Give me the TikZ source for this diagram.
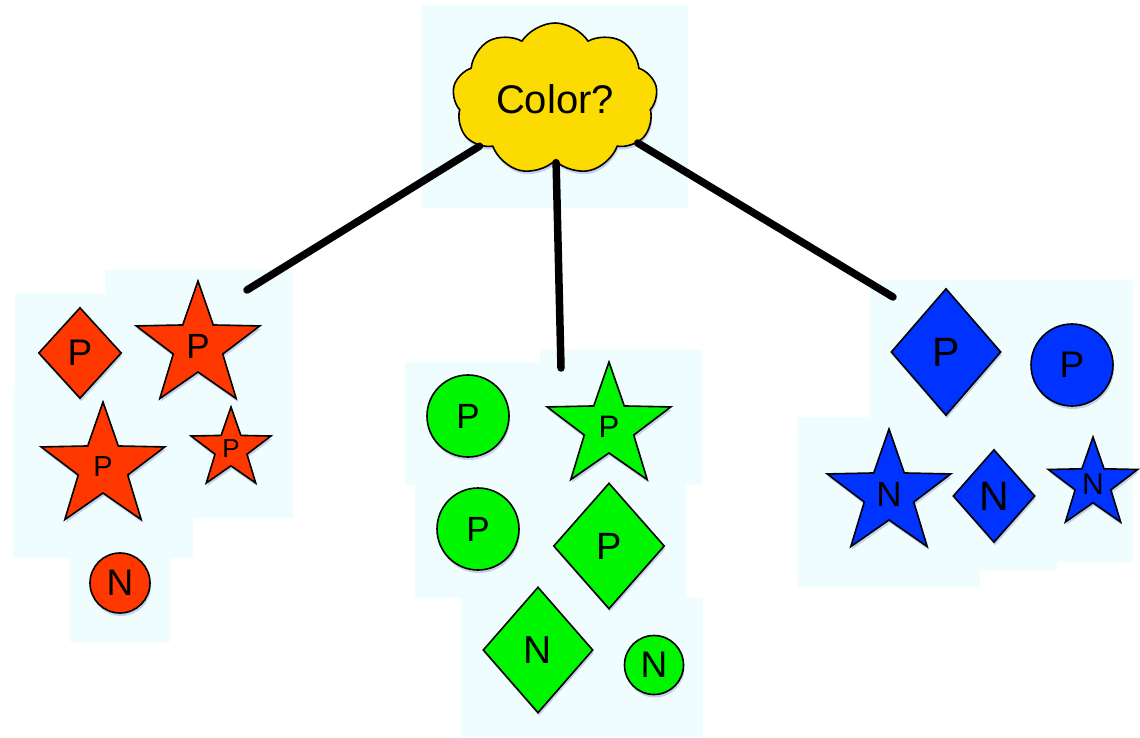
\documentclass[tikz,border=0pt]{standalone}
\usepackage{fontspec}
\setmainfont{Liberation Sans}
\usetikzlibrary{
  shapes.geometric, % 菱形、五角星
  shapes.symbols,   % 云朵
  shadows           % 形状下方的阴影
}
\definecolor{cloudyellow}{RGB}{252,220,0}
\definecolor{redclass}{RGB}{255,56,0}
\definecolor{greenclass}{RGB}{0,245,0}
\definecolor{blueclass}{RGB}{0,51,255}
\definecolor{haze}{RGB}{240,253,255}
\newcommand{\labfont}[1]{\fontsize{#1}{#1}\selectfont}
\tikzset{
  item/.style={
    draw=black,
    line width=1.6pt,
    inner sep=0pt,
    text=black,
    drop shadow={shadow xshift=1pt, shadow yshift=-3pt,
      fill=blue!60!black, opacity=.18}
  },
  roundit/.style={item, circle, minimum size=#1},
  gem/.style 2 args={item, diamond, minimum width=#1, minimum height=#2},
  starit/.style={item, star, star points=5, star point ratio=2.5, minimum size=#1},
  branch/.style={line width=7.5pt, line cap=round, black},
  halo/.style={fill=haze, draw=none}
}

\begin{document}
\begin{tikzpicture}[x=1pt, y=-1pt]
  \useasboundingbox (0,0) rectangle (1140,738);

  % --- 浅色底块 ---
  \fill[halo] (422,5) rectangle (688,208);
  \fill[halo] (105,270) rectangle (293,518);
  \fill[halo] (15,293) rectangle (293,518);
  \fill[halo] (13,390) rectangle (193,558);
  \fill[halo] (70,558) rectangle (170,642);
  \fill[halo] (540,350) rectangle (702,485);
  \fill[halo] (405,362) rectangle (702,485);
  \fill[halo] (415,485) rectangle (686,598);
  \fill[halo] (461,598) rectangle (703,737);
  \fill[halo] (870,280) rectangle (1133,417);
  \fill[halo] (798,417) rectangle (1133,562);
  \fill[halo] (798,562) rectangle (1057,570);
  \fill[halo] (798,570) rectangle (980,587);

  % --- 根：按颜色划分 ---
  \node[cloud, cloud puffs=9, cloud puff arc=115, cloud ignores aspect,
    minimum width=205, minimum height=152, inner sep=0pt,
    draw=black, line width=1.6pt, fill=cloudyellow,
    drop shadow={shadow xshift=1pt, shadow yshift=-3pt, fill=blue!60!black, opacity=.18},
    font=\labfont{40}] (color) at (555,99) {Color?};

  % 三条分支的末端
  \coordinate (redend) at (247,290);
  \coordinate (greenend) at (561,368);
  \coordinate (blueend) at (893,297);
  \draw[branch] (color.212) -- (redend);
  \draw[branch] (color.271) -- (greenend);
  \draw[branch] (color.332) -- (blueend);

  % --- 红色一组 ---
  \begin{scope}[every node/.append style={fill=redclass}]
    \node[gem={83}{91}, font=\labfont{37}] (rdia) at (80,353) {P};
    \node[starit=130, font=\labfont{35}] (rstarA) at (198,346) {P};
    \node[starit=130, font=\labfont{29}] (rstarB) at (103,467) {P};
    \node[starit=84, font=\labfont{26}] (rstarC) at (231,449) {P};
    \node[roundit=60, font=\labfont{37}] (rcirc) at (120,583) {N};
  \end{scope}

  % --- 绿色一组 ---
  \begin{scope}[every node/.append style={fill=greenclass}]
    \node[roundit=82, font=\labfont{35}] (gcircA) at (468,416) {P};
    \node[starit=130, font=\labfont{31}] (gstar) at (609,427) {P};
    \node[roundit=82, font=\labfont{35}] (gcircB) at (478,529) {P};
    \node[gem={111}{126}, font=\labfont{38}] (gdiaA) at (609,546) {P};
    \node[gem={110}{126}, font=\labfont{39}] (gdiaB) at (538,650) {N};
    \node[roundit=59, font=\labfont{37}] (gcircC) at (654,665) {N};
  \end{scope}

  % --- 蓝色一组 ---
  \begin{scope}[every node/.append style={fill=blueclass}]
    \node[gem={110}{127}, font=\labfont{41}] (bdiaA) at (946,352) {P};
    \node[roundit=82, font=\labfont{37}] (bcirc) at (1072,365) {P};
    \node[starit=130, font=\labfont{35}] (bstarA) at (889,494) {N};
    \node[gem={82}{93}, font=\labfont{41}] (bdiaB) at (994,496) {N};
    \node[starit=94, font=\labfont{30}] (bstarB) at (1093,484) {N};
  \end{scope}
\end{tikzpicture}
\end{document}
